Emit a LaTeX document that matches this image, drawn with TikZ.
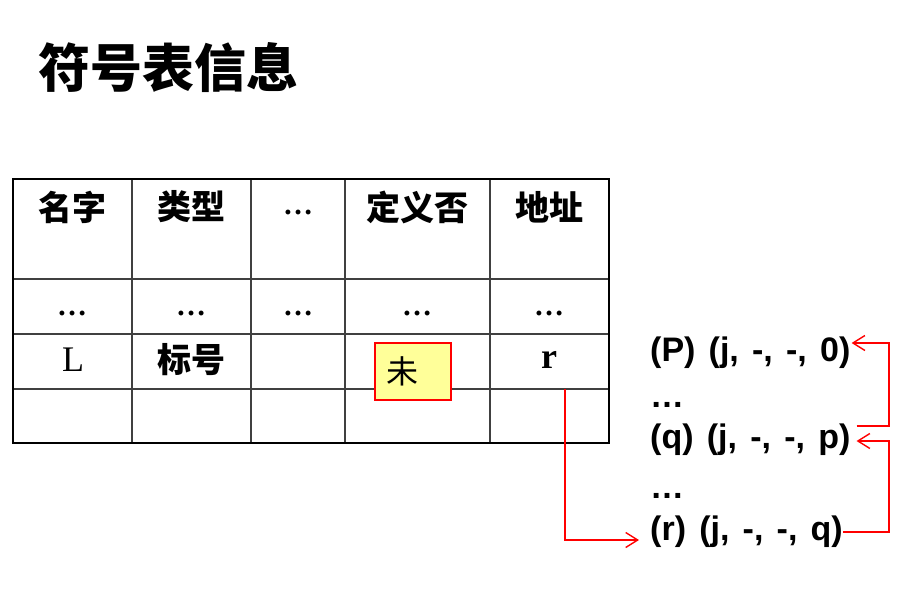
\documentclass[tikz,border=0pt]{standalone}
\usepackage{fontspec}
\setmainfont{Liberation Serif}
\newfontfamily\cjk{Noto Sans CJK SC}
\newfontfamily\quadfont[WordSpace=1.4]{Liberation Sans}
\usetikzlibrary{arrows.meta}
\definecolor{undeffill}{HTML}{FFFF99}

\begin{document}
\begin{tikzpicture}[x=1pt,y=-1pt,
  title/.style={font=\cjk\bfseries\fontsize{52}{60}\selectfont,inner sep=0pt},
  head/.style={font=\cjk\bfseries\fontsize{34}{40}\selectfont,inner sep=0pt},
  cell/.style={font=\fontsize{36}{40}\selectfont,inner sep=0pt},
  more/.style={font=\bfseries\fontsize{30}{36}\selectfont,inner sep=0pt},
  quad/.style={font=\quadfont\bfseries\fontsize{34}{40}\selectfont,inner sep=0pt,anchor=base west},
  defbox/.style={draw=red,line width=1.3pt,fill=undeffill,minimum width=76pt,minimum height=57pt,
                 text width=54pt,inner xsep=11pt,align=left,font=\cjk\fontsize{32}{36}\selectfont},
  frame/.style={line width=2.5pt},
  rule/.style={line width=1.3pt,black!75},
  link/.style={red,line width=1.4pt,-{Straight Barb[length=12pt,width=15pt]}}]
\useasboundingbox (0,0) rectangle (923,599);
\node[title] (title) at (168,68) {符号表信息};
% symbol table grid
\draw[rule] (13,279) -- (609,279);
\draw[rule] (13,334) -- (609,334);
\draw[rule] (13,389) -- (609,389);
\foreach \x in {132,251,345,490}
  \draw[rule] (\x,179) -- (\x,443);
\draw[frame] (13,179) rectangle (609,443);
% header row
\node[head] (hname) at (72,207) {名字};
\node[head] (htype) at (191,207) {类型};
\node[more] (hmore) at (298,212) {…};
\node[head] (hdef) at (417,207) {定义否};
\node[head] (haddr) at (549,207) {地址};
% earlier entries
\foreach \x/\n in {72/a,191/b,298/c,417/d,549/e}
  \node[more] (skip\n) at (\x,313) {…};
% entry of L
\node[cell] (lname) at (73,360) {L};
\node[head] (ltype) at (191,360) {标号};
\node[defbox] (undef) at (413,371.5) {未};
\node[cell,font=\bfseries\fontsize{36}{40}\selectfont] (laddr) at (549,360) {r};
\coordinate (afoot) at (565,389);
% quadruples
\node[quad] (qp) at (650,361) {(P) (j, -, -, 0)};
\node[quad] (gap1) at (650,407) {…};
\node[quad] (qq) at (650,448) {(q) (j, -, -, p)};
\node[quad] (gap2) at (650,498) {…};
\node[quad] (qr) at (650,540) {(r) (j, -, -, q)};
% back-patch chain
\coordinate (rail) at (889,0);
\coordinate (rin) at ([xshift=-11pt]qr.base west);
\coordinate (rout) at ([yshift=8pt]qr.base east);
\coordinate (qin) at ([xshift=6pt,yshift=7pt]qq.base east);
\coordinate (qout) at ([xshift=6pt,yshift=22pt]qq.base east);
\coordinate (pin) at ([xshift=1pt,yshift=18pt]qp.base east);
\draw[link] (afoot) |- (rin);
\draw[link] (rout) -- (rout -| rail) |- (qin);
\draw[link] (qout) -- (qout -| rail) |- (pin);
\end{tikzpicture}
\end{document}
